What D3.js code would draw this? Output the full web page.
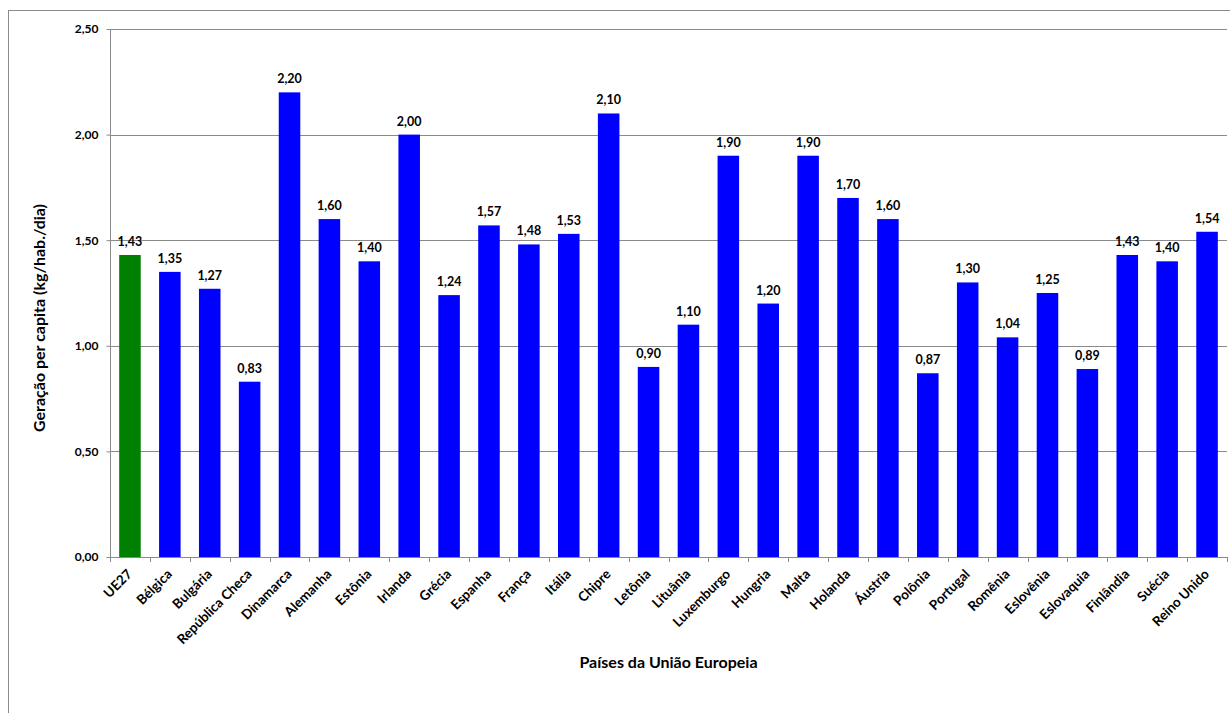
<!DOCTYPE html>
<html><head><meta charset="utf-8">
<script src="https://cdn.jsdelivr.net/npm/d3@7"></script>
<style>body{margin:0;background:#fff;} svg{display:block;} text{font-family:Lato,"Open Sans",sans-serif;font-weight:bold;fill:#000;}</style>
</head><body>
<svg id="c" width="1230" height="713"></svg>
<script>
const categories = ["UE27","Bélgica","Bulgária","República Checa","Dinamarca","Alemanha","Estônia","Irlanda","Grécia","Espanha","França","Itália","Chipre","Letônia","Lituânia","Luxemburgo","Hungria","Malta","Holanda","Áustria","Polônia","Portugal","Romênia","Eslovênia","Eslovaquia","Finlândia","Suécia","Reino Unido"];
const values = [1.43,1.35,1.27,0.83,2.20,1.60,1.40,2.00,1.24,1.57,1.48,1.53,2.10,0.90,1.10,1.90,1.20,1.90,1.70,1.60,0.87,1.30,1.04,1.25,0.89,1.43,1.40,1.54];
const yTicks = [0,0.5,1,1.5,2,2.5];
const yTitle = "Geração per capita (kg/hab./dia)";
const xTitle = "Países da União Europeia";

const svg = d3.select("#c");
const L = 110, R = 1227, T = 29, B = 557;
const fmt = v => d3.format(".2f")(v).replace(".", ",");

svg.append("rect").attr("x",8.5).attr("y",10.5).attr("width",1400).attr("height",900)
  .attr("fill","none").attr("stroke","#8c8c8c").attr("stroke-width",1);

const x = d3.scaleBand().domain(categories).range([L,R]).paddingInner(0.46).paddingOuter(0.23);
const y = d3.scaleLinear().domain([0,2.5]).range([B,T]);

// gridlines
svg.append("g").selectAll("line").data(yTicks.filter(d=>d>0)).join("line")
  .attr("x1",L).attr("x2",R).attr("y1",d=>Math.round(y(d))+0.5).attr("y2",d=>Math.round(y(d))+0.5)
  .attr("stroke","#8a8a8a").attr("stroke-width",1);

// y axis
const yAxis = svg.append("g").attr("transform",`translate(${L+0.5},0)`)
  .call(d3.axisLeft(y).tickValues(yTicks).tickFormat(fmt).tickSize(4).tickPadding(8));
yAxis.select(".domain").attr("stroke","#8a8a8a").attr("d",`M0,${T}V${B}`);
yAxis.selectAll(".tick line").attr("stroke","#8a8a8a");
yAxis.selectAll(".tick text").style("font-size","12px").style("font-family","Lato,sans-serif").style("font-weight","bold").attr("fill","#111");

// bars
svg.append("g").selectAll("rect").data(categories).join("rect")
  .attr("x",d=>x(d)).attr("width",x.bandwidth())
  .attr("y",(d,i)=>y(values[i])).attr("height",(d,i)=>B-y(values[i]))
  .attr("fill",(d,i)=>i===0?"#008000":"#0000ff");

// value labels
svg.append("g").selectAll("text").data(categories).join("text")
  .attr("x",d=>x(d)+x.bandwidth()/2).attr("y",(d,i)=>y(values[i])-9)
  .attr("text-anchor","middle").style("font-size","12.5px").text((d,i)=>fmt(values[i]));

// x axis
const step = x.step();
const xa = svg.append("g");
xa.append("line").attr("x1",L).attr("x2",R).attr("y1",B+0.5).attr("y2",B+0.5).attr("stroke","#8a8a8a");
xa.selectAll("line.tk").data(d3.range(categories.length+1)).join("line").attr("class","tk")
  .attr("x1",i=>Math.round(L+i*step)+0.5).attr("x2",i=>Math.round(L+i*step)+0.5)
  .attr("y1",B).attr("y2",B+5).attr("stroke","#8a8a8a");
xa.selectAll("text").data(categories).join("text")
  .attr("transform",d=>`translate(${x(d)+x.bandwidth()/2+3},${B+18}) rotate(-45)`)
  .attr("text-anchor","end").style("font-size","13.5px").text(d=>d);

// titles
svg.append("text").attr("transform",`translate(45,318) rotate(-90)`)
  .attr("text-anchor","middle").style("font-size","16px").text(yTitle);
svg.append("text").attr("x",(L+R)/2).attr("y",668).attr("text-anchor","middle")
  .style("font-size","16px").text(xTitle);
</script>
</body></html>
